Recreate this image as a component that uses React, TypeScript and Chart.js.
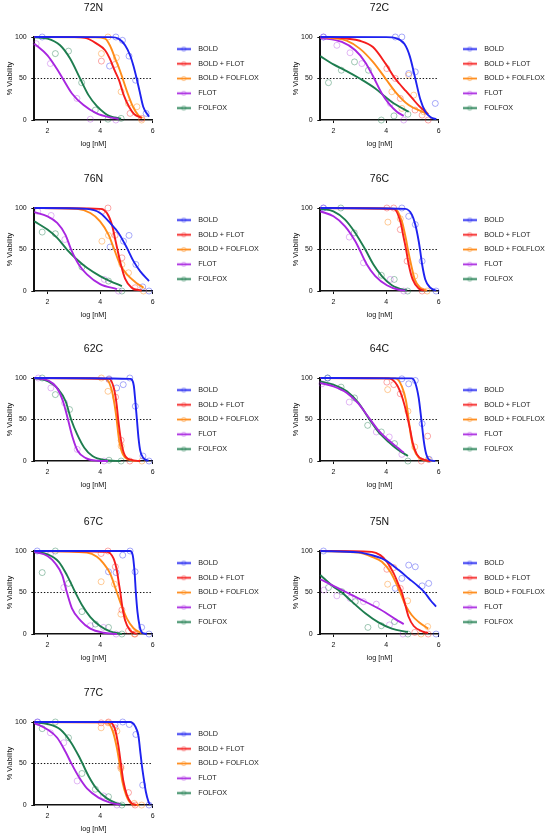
import { useEffect, useRef } from "react";
import { Chart, registerables, type ChartConfiguration, type LegendItem } from "chart.js";

Chart.register(...registerables);
Chart.defaults.font.family = "Arial, 'Liberation Sans', Helvetica, sans-serif";
Chart.defaults.color = "#111";

type Pt = [number, number];

const SERIES = ["BOLD", "BOLD + FLOT", "BOLD + FOLFLOX", "FLOT", "FOLFOX"];
const LINE_COLORS = ["#1e22f0", "#f51d1d", "#ff8c1a", "#a826e0", "#1e7d4f"];
const POINT_COLORS = [
  "rgba(30,34,240,0.38)",
  "rgba(245,29,29,0.38)",
  "rgba(255,140,26,0.45)",
  "rgba(168,38,224,0.33)",
  "rgba(30,125,79,0.42)",
];
const X_TICKS = [2, 4, 6];
const Y_TICKS = [0, 50, 100];
const X_RANGE = [1.5, 6];
const HALF_MAX = 50;

// fitted curves, one list per series, [log nM, % viability]
const FIT_72N: Pt[][] = [
  [[1.5, 100], [4.4, 99.8], [4.7, 98], [4.95, 90], [5.14, 78], [5.27, 65], [5.39, 50], [5.5, 35], [5.64, 16], [5.86, 4]],
  [[1.5, 100], [3, 99.8], [3.43, 99], [3.87, 92], [4.19, 84], [4.37, 74], [4.55, 60], [4.72, 48], [4.9, 30], [5.1, 16], [5.3, 7], [5.58, 2.5]],
  [[1.5, 100], [3.8, 99.6], [4.19, 98], [4.37, 90], [4.6, 72], [4.75, 60], [4.88, 48], [5.05, 32], [5.25, 16], [5.45, 6], [5.6, 2]],
  [[1.5, 92], [2, 78], [2.35, 62], [2.58, 50], [2.93, 32], [3.37, 18], [3.87, 8], [4.37, 3.2], [4.7, 1.5]],
  [[1.5, 99.6], [2, 98], [2.48, 90], [2.86, 74], [3.24, 50], [3.56, 30], [3.87, 17], [4.19, 8], [4.37, 4.8], [4.8, 1.5]],
];
const OBS_72N: Pt[][] = [
  [[1.8, 100], [4.36, 65], [4.6, 100], [4.85, 96], [5.1, 77], [5.35, 48], [5.75, 8]],
  [[4.05, 71], [4.57, 67], [5.14, 8], [5.58, 2]],
  [[4.05, 80], [4.3, 100], [4.62, 75], [4.8, 34], [5.08, 20], [5.4, 16], [5.58, 0]],
  [[1.57, 92], [2.11, 68], [3.12, 26], [3.63, 1], [4.6, 0]],
  [[2.3, 80], [2.8, 83], [3.3, 45], [3.82, 12], [4.3, 1], [4.8, 2]],
];

const FIT_72C: Pt[][] = [
  [[1.5, 100], [4, 99.8], [4.4, 98.4], [4.7, 91.5], [4.9, 77], [5.11, 50], [5.3, 25], [5.5, 9.6], [5.7, 3.2], [5.91, 1]],
  [[1.5, 100], [2, 99.6], [2.5, 98], [3, 95.5], [3.5, 88], [4, 67], [4.3, 52], [4.5, 44], [4.75, 35], [5, 26], [5.25, 17], [5.6, 7]],
  [[1.5, 100], [2, 98.5], [2.5, 95.6], [3, 86], [3.5, 70], [4, 49], [4.35, 34], [4.86, 18], [5.37, 10], [5.6, 7]],
  [[1.5, 99], [2.32, 94], [2.83, 84], [3.2, 70], [3.5, 53], [3.84, 32], [4.1, 20], [4.41, 10], [4.67, 5]],
  [[1.5, 77], [2, 67], [2.5, 59], [3, 50], [3.59, 38], [3.97, 28], [4.35, 19], [4.86, 10]],
];
const OBS_72C: Pt[][] = [
  [[1.62, 100], [4.35, 100], [4.6, 100], [4.86, 56], [5.11, 58], [5.87, 20]],
  [[4.03, 62], [4.35, 50], [4.54, 26], [5.1, 12], [5.37, 6], [5.6, 0]],
  [[4.22, 34], [4.6, 14], [4.86, 54], [5.05, 30], [5.43, 10]],
  [[1.62, 100], [2.13, 90], [2.63, 81], [3.08, 68], [4.16, 20], [4.67, 0]],
  [[1.81, 45], [2.3, 60], [2.8, 70], [3.33, 60], [3.82, 0], [4.3, 5], [4.83, 7]],
];

const FIT_76N: Pt[][] = [
  [[1.5, 100], [3.5, 99], [4, 94], [4.38, 82], [4.7, 70], [5.02, 52], [5.27, 36], [5.52, 24], [5.86, 12]],
  [[1.5, 100], [4, 99], [4.26, 94], [4.45, 80], [4.57, 63], [4.66, 50], [4.79, 32], [4.95, 15], [5.2, 4], [5.58, 0.5]],
  [[1.5, 100], [3.12, 99], [3.63, 94], [4, 84], [4.32, 68], [4.54, 50], [4.76, 32], [5.02, 20], [5.33, 11], [5.65, 4]],
  [[1.5, 95], [2, 90], [2.37, 82], [2.68, 68], [2.9, 50], [3.19, 32], [3.5, 20], [4, 8.4], [4.64, 2.4]],
  [[1.5, 84], [2, 74], [2.37, 64], [2.74, 50], [3.12, 38], [3.5, 28], [4, 18], [4.38, 12], [4.83, 6]],
];
const OBS_76N: Pt[][] = [
  [[4.38, 53], [4.89, 60], [5.1, 67], [5.36, 32], [5.62, 5], [5.86, 0]],
  [[4.07, 96], [4.3, 100], [4.57, 67], [4.83, 40], [5.33, 4]],
  [[4.07, 60], [4.32, 67], [4.83, 32], [5.08, 22], [5.65, 0]],
  [[1.63, 96], [2.14, 91], [2.66, 62], [4.16, 14], [4.7, 0]],
  [[1.8, 71], [2.3, 69], [3.31, 29], [4.32, 12], [4.83, 0]],
];

const FIT_76C: Pt[][] = [
  [[1.5, 100], [4.73, 99], [4.98, 92], [5.11, 80], [5.24, 60], [5.29, 50], [5.37, 32], [5.49, 14], [5.68, 4], [5.9, 0.5]],
  [[1.5, 100], [4.29, 99], [4.54, 84], [4.67, 64], [4.76, 50], [4.86, 32], [5.01, 14], [5.24, 3], [5.43, 0.5]],
  [[1.5, 100], [4.35, 99], [4.6, 84], [4.76, 62], [4.83, 50], [4.95, 32], [5.09, 14], [5.3, 4], [5.56, 0.5]],
  [[1.5, 96], [2, 90], [2.44, 78], [2.83, 60], [2.99, 50], [3.27, 32], [3.59, 18], [4.03, 7], [4.48, 1.5], [4.73, 0.5]],
  [[1.5, 99], [2, 96], [2.44, 86], [2.83, 70], [3.21, 50], [3.52, 32], [3.84, 18], [4.22, 7], [4.67, 1.5], [4.8, 1]],
];
const OBS_76C: Pt[][] = [
  [[1.62, 100], [4.6, 100], [4.86, 90], [5.11, 80], [5.37, 36], [5.9, 0]],
  [[4.03, 100], [4.29, 100], [4.54, 74], [4.8, 36], [5.37, 0]],
  [[4.07, 83], [4.54, 87], [5.09, 18], [5.56, 0]],
  [[1.62, 100], [2.6, 65], [3.14, 34], [4.16, 14], [4.67, 0]],
  [[2.28, 100], [2.79, 70], [3.82, 19], [4.31, 14], [4.82, 0]],
];

const FIT_62C: Pt[][] = [
  [[1.5, 100], [5.15, 99], [5.28, 91], [5.34, 72], [5.4, 50], [5.46, 28], [5.53, 12], [5.65, 3.5], [5.84, 0.3]],
  [[1.5, 100], [4.34, 99], [4.53, 87], [4.63, 68], [4.69, 50], [4.78, 28], [4.9, 10], [5.15, 1.6], [5.53, 0]],
  [[1.5, 100], [4.21, 99], [4.43, 87], [4.55, 68], [4.63, 50], [4.71, 28], [4.84, 10], [5.09, 1.6], [5.4, 0]],
  [[1.5, 100], [2.03, 97], [2.34, 89], [2.59, 72], [2.78, 50], [2.96, 28], [3.15, 12], [3.46, 3.5], [3.9, 0.4], [4.3, 0]],
  [[1.5, 100], [2.03, 96], [2.4, 87], [2.69, 72], [2.9, 50], [3.13, 32], [3.4, 16], [3.71, 6], [4.15, 1.2], [4.78, 0]],
];
const OBS_62C: Pt[][] = [
  [[4.34, 99], [4.63, 88], [4.88, 92], [5.13, 100], [5.34, 66], [5.63, 6], [5.86, 0]],
  [[4.34, 98], [4.59, 77], [4.8, 25], [5.13, 0]],
  [[4.05, 100], [4.3, 84], [4.8, 18], [5.59, 0]],
  [[1.65, 100], [2.13, 88], [2.65, 70], [3.13, 14], [4.15, 0]],
  [[1.8, 100], [2.3, 80], [2.84, 62], [4.34, 1], [4.8, 0]],
];

const FIT_64C: Pt[][] = [
  [[1.5, 100], [4.98, 99.6], [5.11, 94], [5.24, 76], [5.34, 50], [5.43, 25], [5.52, 9], [5.64, 1.6], [5.87, 0]],
  [[1.5, 100], [4.1, 99.6], [4.41, 92], [4.6, 78], [4.76, 60], [4.83, 50], [4.92, 37], [5.02, 21], [5.17, 8], [5.43, 1.6], [5.68, 0]],
  [[1.5, 100], [4.35, 99.6], [4.6, 90], [4.76, 72], [4.86, 50], [4.95, 29], [5.05, 15], [5.24, 4], [5.49, 1], [5.75, 0]],
  [[1.5, 94], [2, 90], [2.51, 82], [2.95, 69], [3.33, 53], [3.71, 37], [4.1, 25], [4.48, 15], [4.67, 10]],
  [[1.5, 96], [2, 92], [2.51, 84], [2.95, 70], [3.37, 50], [3.71, 35], [4.1, 23], [4.48, 13], [4.83, 6]],
];
const OBS_64C: Pt[][] = [
  [[1.78, 100], [4.6, 99], [4.86, 93], [5.11, 97], [5.37, 45], [5.64, 2]],
  [[4.03, 95], [4.29, 92], [4.54, 81], [5.34, 0], [5.58, 30]],
  [[4.06, 86], [4.83, 60], [5.09, 17], [5.6, 2]],
  [[1.56, 93], [2.6, 71], [3.63, 35], [4.12, 29], [4.6, 8]],
  [[1.78, 100], [2.29, 89], [2.8, 76], [3.3, 43], [3.82, 35], [4.32, 21], [4.83, 0]],
];

const FIT_67C: Pt[][] = [
  [[1.5, 100], [5.14, 100], [5.24, 95], [5.31, 75], [5.36, 50], [5.42, 27], [5.5, 10], [5.58, 2.4], [5.77, 0]],
  [[1.5, 100], [4.26, 99], [4.51, 91], [4.64, 76], [4.72, 60], [4.77, 50], [4.83, 36], [4.95, 16.5], [5.14, 4.4], [5.39, 0]],
  [[1.5, 100], [3.5, 98], [3.88, 93], [4.13, 85], [4.38, 73], [4.64, 50], [4.83, 33], [5.02, 18.5], [5.27, 7], [5.58, 1]],
  [[1.5, 99], [2, 94], [2.3, 85], [2.56, 71], [2.74, 50], [2.93, 31], [3.25, 16.5], [3.63, 6.5], [4.13, 1.6], [4.64, 0]],
  [[1.5, 99], [2, 96], [2.43, 87], [2.74, 71], [3.06, 50], [3.31, 35], [3.63, 20.5], [4, 9.7], [4.38, 3.2], [4.83, 0]],
];
const OBS_67C: Pt[][] = [
  [[1.61, 100], [4.32, 75], [4.61, 74], [4.86, 95], [5.14, 100], [5.33, 75], [5.58, 8], [5.86, 0]],
  [[4.04, 97], [4.3, 100], [4.58, 81], [4.83, 29], [5.08, 4], [5.33, 0]],
  [[4.04, 63], [4.55, 60], [4.79, 24], [5.3, 0]],
  [[2.11, 96], [2.62, 56], [3.63, 10], [4.13, 8], [4.61, 0]],
  [[1.8, 74], [2.3, 100], [2.8, 61], [3.31, 27], [3.82, 12], [4.32, 8], [4.83, 0]],
];

const FIT_75N: Pt[][] = [
  [[1.5, 100], [2.95, 98.4], [3.46, 95], [3.84, 91], [4.16, 85], [4.48, 77], [4.86, 67], [5.24, 57], [5.47, 50], [5.68, 41], [5.9, 33]],
  [[1.5, 100], [3.46, 99], [3.78, 95], [4.03, 87], [4.29, 73], [4.48, 59], [4.6, 50], [4.73, 35], [4.86, 20.5], [5.05, 9.7], [5.37, 3.2], [5.6, 1.2]],
  [[1.5, 100], [2.95, 98], [3.46, 93], [3.84, 87], [4.16, 75], [4.37, 62], [4.54, 50], [4.73, 35], [4.98, 22.6], [5.24, 14.5], [5.6, 6.5]],
  [[1.5, 66], [2, 58], [2.51, 50], [2.95, 43], [3.46, 35], [3.97, 26], [4.35, 18], [4.67, 12]],
  [[1.5, 71], [2, 57], [2.32, 50], [2.7, 39], [3.21, 25], [3.71, 14], [4.22, 6.5], [4.83, 2.4]],
];
const OBS_75N: Pt[][] = [
  [[1.62, 100], [4.35, 55], [4.6, 67], [4.86, 83], [5.11, 81], [5.37, 58], [5.62, 61], [5.9, 0]],
  [[4.03, 78], [4.29, 80], [4.54, 55], [5.09, 2], [5.6, 0]],
  [[4.06, 60], [4.82, 40], [5.33, 0], [5.58, 9]],
  [[1.64, 53], [2.13, 46], [2.63, 43], [3.14, 39], [3.63, 36], [4.13, 11], [4.64, 0]],
  [[1.81, 56], [2.32, 51], [2.83, 39], [3.31, 8], [3.82, 10], [4.32, 15], [4.83, 0]],
];

const FIT_77C: Pt[][] = [
  [[1.5, 100], [5.14, 100], [5.33, 95], [5.46, 83], [5.52, 66.5], [5.58, 50], [5.65, 34], [5.74, 16], [5.84, 4], [5.9, 0.5]],
  [[1.5, 100], [4.38, 99.6], [4.57, 91], [4.7, 70.6], [4.79, 50], [4.89, 28], [5.02, 12], [5.2, 2], [5.39, 0]],
  [[1.5, 100], [4.26, 99.6], [4.48, 89], [4.64, 68.5], [4.74, 50], [4.85, 28], [4.99, 12], [5.18, 2], [5.46, 0]],
  [[1.5, 99], [2, 91], [2.37, 81], [2.68, 64.5], [2.91, 50], [3.19, 34], [3.5, 20], [3.94, 9], [4.38, 3], [4.77, 0.4]],
  [[1.5, 99.6], [2, 97.6], [2.49, 91], [2.87, 76.6], [3.19, 59], [3.33, 50], [3.56, 35], [3.88, 19], [4.26, 8], [4.64, 2], [4.95, 0]],
];
const OBS_77C: Pt[][] = [
  [[1.63, 100], [4.57, 97], [4.86, 100], [5.11, 97], [5.36, 85], [5.62, 24], [5.86, 0]],
  [[4.04, 99], [4.32, 100], [4.57, 93], [4.79, 46], [5.08, 15], [5.33, 0]],
  [[4.04, 93], [4.3, 99], [4.64, 89], [4.79, 44], [5.3, 2], [5.58, 0]],
  [[1.61, 100], [2.11, 87], [2.62, 75], [3.13, 29], [4.13, 11], [4.64, 0]],
  [[1.8, 92], [2.3, 100], [2.8, 81], [3.31, 38], [3.82, 19], [4.32, 10], [4.83, 0]],
];

const PANELS = [
  { name: "72N", fit: FIT_72N, obs: OBS_72N },
  { name: "72C", fit: FIT_72C, obs: OBS_72C },
  { name: "76N", fit: FIT_76N, obs: OBS_76N },
  { name: "76C", fit: FIT_76C, obs: OBS_76C },
  { name: "62C", fit: FIT_62C, obs: OBS_62C },
  { name: "64C", fit: FIT_64C, obs: OBS_64C },
  { name: "67C", fit: FIT_67C, obs: OBS_67C },
  { name: "75N", fit: FIT_75N, obs: OBS_75N },
  { name: "77C", fit: FIT_77C, obs: OBS_77C },
];

const ROW_TOPS = [0, 171.3, 341.2, 514, 685.3];
const COL_LEFTS = [0, 285.5];
const W = 262;
const H = 152;

function legendMarker(line: string, ring: string) {
  const c = document.createElement("canvas");
  c.width = 14;
  c.height = 7;
  const g = c.getContext("2d")!;
  g.strokeStyle = line;
  g.lineWidth = 1.8;
  g.beginPath();
  g.moveTo(0, 3.5);
  g.lineTo(14, 3.5);
  g.stroke();
  g.strokeStyle = ring;
  g.lineWidth = 1;
  g.beginPath();
  g.arc(7, 3.5, 2.2, 0, Math.PI * 2);
  g.stroke();
  return c;
}

const axisGrid = {
  display: true,
  drawOnChartArea: false,
  drawTicks: true,
  tickLength: 3,
  color: "#111",
  lineWidth: 1,
};

interface PanelProps {
  name: string;
  fit: Pt[][];
  obs: Pt[][];
  left: number;
  top: number;
}

function Panel({ name, fit, obs, left, top }: PanelProps) {
  const canvasRef = useRef<HTMLCanvasElement>(null);

  useEffect(() => {
    const canvas = canvasRef.current;
    if (!canvas) return;

    const markers = LINE_COLORS.map((c, i) => legendMarker(c, POINT_COLORS[i]));

    const curves = fit.map((pts, i) => ({
      label: SERIES[i],
      data: pts.map(([x, y]) => ({ x, y })),
      borderColor: LINE_COLORS[i],
      backgroundColor: LINE_COLORS[i],
      borderWidth: 1.9,
      pointRadius: 0,
      fill: false,
      cubicInterpolationMode: "monotone" as const,
      clip: false as const,
      order: 1,
    }));
    const points = obs.map((pts, i) => ({
      label: SERIES[i] + " data",
      data: pts.map(([x, y]) => ({ x, y })),
      showLine: false,
      pointRadius: 3,
      pointBorderWidth: 1,
      pointBorderColor: POINT_COLORS[i],
      pointBackgroundColor: "rgba(0,0,0,0)",
      clip: false as const,
      order: 3,
    }));
    const cutoff = {
      label: "50%",
      data: X_RANGE.map((x) => ({ x, y: HALF_MAX })),
      borderColor: "#111",
      borderWidth: 1,
      borderDash: [1.4, 1.8],
      pointRadius: 0,
      fill: false,
      order: 2,
    };

    const config: ChartConfiguration<"line"> = {
      type: "line",
      data: { datasets: [...curves, ...points, cutoff] as any },
      options: {
        responsive: false,
        animation: false,
        layout: { padding: 0 },
        plugins: {
          tooltip: { enabled: false },
          title: {
            display: true,
            text: name,
            fullSize: false,
            color: "#111",
            font: { size: 10.5, weight: "normal" },
            padding: { top: 2.2, bottom: 22.2 },
          },
          legend: {
            display: true,
            position: "right",
            align: "center",
            fullSize: false,
            maxWidth: 96.85,
            labels: {
              usePointStyle: true,
              pointStyleWidth: 22,
              padding: 7.55,
              color: "#1a1a1a",
              font: { size: 7.2 },
              generateLabels: (): LegendItem[] =>
                SERIES.map((text, i) => ({
                  text,
                  pointStyle: markers[i] as any,
                  fillStyle: "rgba(0,0,0,0)",
                  strokeStyle: "rgba(0,0,0,0)",
                  lineWidth: 0,
                  hidden: false,
                  datasetIndex: i,
                  fontColor: "#1a1a1a",
                })),
            },
          },
        },
        scales: {
          x: {
            type: "linear",
            min: X_RANGE[0],
            max: X_RANGE[1],
            afterBuildTicks: (axis) => {
              axis.ticks = X_TICKS.map((value) => ({ value }));
            },
            ticks: { font: { size: 7 }, color: "#111", padding: 3.8 },
            grid: axisGrid,
            border: { display: true, color: "#111", width: 1.5 },
            title: {
              display: true,
              text: "log [nM]",
              color: "#111",
              font: { size: 7.3 },
              padding: { top: 0.6, bottom: 3.6 },
            },
          },
          y: {
            type: "linear",
            min: 0,
            max: 100,
            afterBuildTicks: (axis) => {
              axis.ticks = Y_TICKS.map((value) => ({ value }));
            },
            afterFit: (axis) => {
              axis.width = 34.3;
            },
            ticks: { font: { size: 7 }, color: "#111", padding: 4.6 },
            grid: axisGrid,
            border: { display: true, color: "#111", width: 2 },
            title: {
              display: true,
              text: "% Viability",
              color: "#111",
              font: { size: 7.3 },
              padding: { top: 5.6, bottom: 0 },
            },
          },
          gap: {
            type: "linear",
            position: "right",
            display: true,
            grid: { display: false },
            ticks: { display: false },
            border: { display: false },
            afterFit: (axis) => {
              axis.width = 12.45;
            },
          },
        },
      },
    };

    const chart = new Chart(canvas, config);
    return () => chart.destroy();
  }, [name, fit, obs]);

  return (
    <canvas
      ref={canvasRef}
      width={W}
      height={H}
      style={{ position: "absolute", left, top, width: W, height: H }}
    />
  );
}

export default function App() {
  return (
    <div
      style={{
        position: "absolute",
        left: 0,
        top: 0,
        width: 550,
        height: 836,
        overflow: "hidden",
        background: "#fff",
      }}
    >
      {PANELS.map((p, i) => (
        <Panel
          key={p.name}
          name={p.name}
          fit={p.fit}
          obs={p.obs}
          left={COL_LEFTS[i % 2]}
          top={ROW_TOPS[Math.floor(i / 2)]}
        />
      ))}
    </div>
  );
}
